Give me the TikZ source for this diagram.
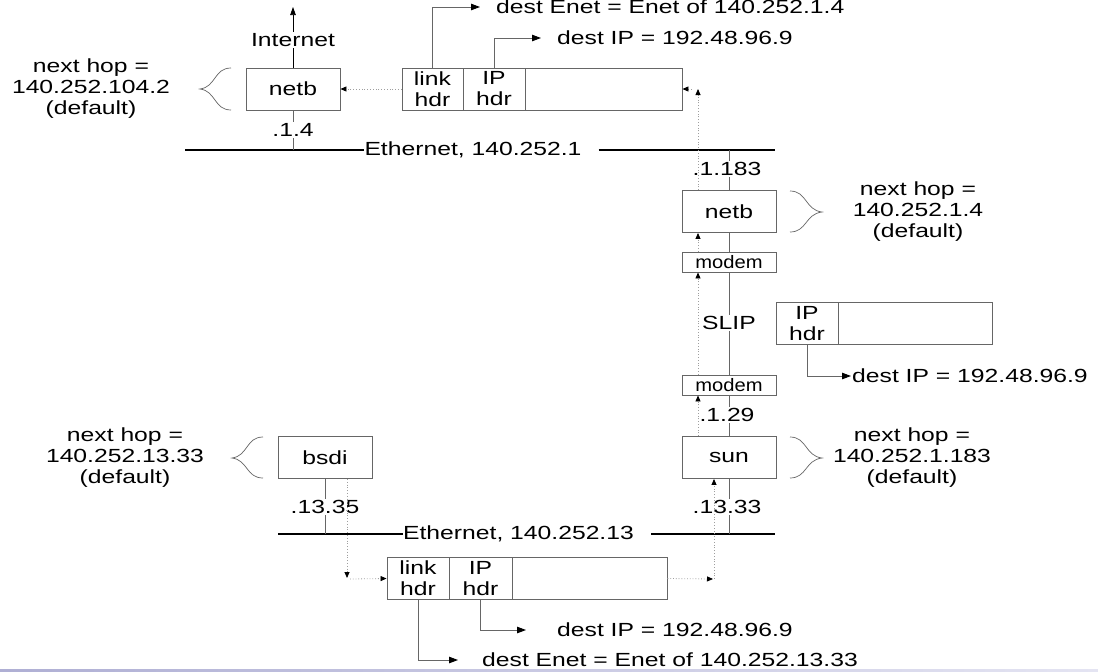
\documentclass[tikz,border=0pt]{standalone}
\usepackage{fontspec}
\setmainfont{Liberation Sans}[FakeStretch=1.3]
\newfontfamily\modemfont{Liberation Sans}[FakeStretch=1.12]
\usetikzlibrary{arrows.meta}
\definecolor{edge}{gray}{0.40}
\definecolor{dots}{gray}{0.62}
\begin{document}
\begin{tikzpicture}[x=1pt,y=-1pt,
  every node/.style={font=\fontsize{19}{21}\selectfont, inner sep=0pt},
  hostbox/.style={draw=edge, line width=0.9pt, minimum width=94pt, minimum height=42pt},
  modembox/.style={draw=edge, line width=0.9pt, minimum width=94pt, minimum height=20pt, font=\modemfont\fontsize{18}{19}\selectfont},
  cell/.style={draw=edge, line width=0.9pt, minimum height=42pt, align=center},
  ether/.style={line width=1.6pt, black},
  tick/.style={line width=0.9pt, edge},
  ptr/.style={line width=0.9pt, edge, -{Triangle[length=9pt,width=6.5pt,color=black]}},
  flow/.style={dotted, line width=0.8pt, dots, -{Triangle[length=6pt,width=5pt,color=black]}},
  brc/.style={line width=0.7pt, edge},
  onwhite/.style={fill=white, inner sep=1.5pt},
  hop/.style={align=center},
]
\useasboundingbox (0,0) rectangle (1098,672);
\fill[white] (0,0) rectangle (1098,672);
\shade[left color={rgb,255:red,175;green,175;blue,212}, right color={rgb,255:red,228;green,228;blue,242}] (0,669) rectangle (1098,672);

% column helper coordinates
\coordinate (colL) at (698,0);
\coordinate (colR) at (714,0);
\coordinate (colB) at (347,0);

% ---------- top part ----------
\node[hostbox] (netbT) at (293,89) {netb};
\node[hop] (hopT) at (91,89) {next hop =\\140.252.104.2\\(default)};
\draw[brc] (231,68) .. controls (214,68) and (216,87) .. (200,89) .. controls (216,91) and (214,110) .. (231,110);

\coordinate (inetTop) at (293,7);
\draw[ptr, line width=0.7pt, black, -{Triangle[length=8pt,width=5.5pt]}] (netbT.north) -- (inetTop);
\node[onwhite] (inet) at (293,40) {Internet};

\node[cell, minimum width=61pt] (linkT) at (432.5,89) {link\\hdr};
\node[cell, minimum width=62pt] (ipT) at (494,89) {IP\\hdr};
\node[cell, minimum width=157pt] (dataT) at (603.5,89) {};

\coordinate (enetTa) at (480,7);
\node[anchor=west] (enetT) at (496,7) {dest Enet = Enet of 140.252.1.4};
\draw[ptr] (linkT.north) |- (enetTa);
\coordinate (ipTa) at (541,38);
\node[anchor=west] (dipT) at (557,38) {dest IP = 192.48.96.9};
\draw[ptr] (ipT.north) |- (ipTa);

\draw[flow] (linkT.west) -- (netbT.east);
\coordinate (rT1) at (692,89);
\draw[flow] (rT1) -- (dataT.east);

% Ethernet 140.252.1
\node (ethT) at (473,150) {Ethernet, 140.252.1};
\coordinate (ethTa) at (185,150);
\coordinate (ethTb) at (775,150);
\draw[ether] (ethTa) -- (ethT.west);
\draw[ether] ([xshift=17pt]ethT.east) -- (ethTb);

\draw[tick] (netbT.south) -- (netbT.south |- ethTa);
\node[onwhite] (a14) at (293,130) {.1.4};

% ---------- right column ----------
\node[hostbox] (netbR) at (729,211.5) {netb};
\node[modembox] (modem1) at (729,262) {modem};
\node[modembox] (modem2) at (729,385) {modem};
\node[hostbox] (sun) at (729,457.5) {sun};

\draw[tick] (netbR.north) -- (netbR.north |- ethTb);
\draw[tick] (netbR.south) -- (modem1.north);
\draw[tick] (modem1.south) -- (modem2.north);
\draw[tick] (modem2.south) -- (sun.north);
\node[onwhite] (a1183) at (727,169) {.1.183};
\node[onwhite] (slip) at (729,323) {SLIP};
\node[onwhite] (a129) at (727,415) {.1.29};

\node[hop] (hopR) at (918,212) {next hop =\\140.252.1.4\\(default)};
\draw[brc] (790,191) .. controls (807,191) and (805,210) .. (822,212) .. controls (805,214) and (807,232) .. (790,232);

\node[cell, minimum width=62pt] (ipM) at (807,323.5) {IP\\hdr};
\node[cell, minimum width=154pt] (dataM) at (915,323.5) {};
\coordinate (ipMa) at (851,376);
\node[anchor=west] (dipM) at (852,376) {dest IP = 192.48.96.9};
\draw[ptr] (ipM.south) |- (ipMa);

% ---------- bottom part ----------
\node[hostbox] (bsdi) at (325,457.5) {bsdi};
\node[hop] (hopB) at (125,458) {next hop =\\140.252.13.33\\(default)};
\draw[brc] (263,437) .. controls (246,437) and (248,456) .. (232,458) .. controls (248,460) and (246,478) .. (263,478);

\node[hop] (hopS) at (912,458) {next hop =\\140.252.1.183\\(default)};
\draw[brc] (790,437) .. controls (807,437) and (805,456) .. (822,458) .. controls (805,460) and (807,478) .. (790,478);

% Ethernet 140.252.13
\node (ethB) at (518.5,534) {Ethernet, 140.252.13};
\coordinate (ethBa) at (278,534);
\coordinate (ethBb) at (775,534);
\draw[ether] (ethBa) -- (ethB.west);
\draw[ether] ([xshift=17pt]ethB.east) -- (ethBb);

\draw[tick] (bsdi.south) -- (bsdi.south |- ethBa);
\draw[tick] (sun.south) -- (sun.south |- ethBb);
\node[onwhite] (a1335) at (325,507) {.13.35};
\node[onwhite] (a1333) at (727,507) {.13.33};

\node[cell, minimum width=62pt] (linkB) at (418,578.5) {link\\hdr};
\node[cell, minimum width=63pt] (ipB) at (480.5,578.5) {IP\\hdr};
\node[cell, minimum width=155pt] (dataB) at (589.5,578.5) {};

\coordinate (ipBa) at (526,630);
\node[anchor=west] (dipB) at (557,630) {dest IP = 192.48.96.9};
\draw[ptr] (ipB.south) |- (ipBa);
\coordinate (enetBa) at (458,660);
\node[anchor=west] (enetB) at (482,660) {dest Enet = Enet of 140.252.13.33};
\draw[ptr] (linkB.south) |- (enetBa);

% ---------- dotted packet flow ----------
\coordinate (bDown) at (347,578);
\coordinate (bRight) at (350,579);
\coordinate (sRight) at (713,579);
\coordinate (sUp) at (714,579);
\coordinate (upT) at (698,89);
\draw[flow] (bsdi.south -| colB) -- (bDown);
\draw[flow] (bRight) -- (linkB.west);
\draw[flow] (dataB.east) -- (sRight);
\draw[flow] (sUp) -- (sun.south -| colR);
\draw[flow] (sun.north -| colL) -- (modem2.south -| colL);
\draw[flow] (modem2.north -| colL) -- (modem1.south -| colL);
\draw[flow] (modem1.north -| colL) -- (netbR.south -| colL);
\draw[flow] (netbR.north -| colL) -- (upT);
\end{tikzpicture}
\end{document}
